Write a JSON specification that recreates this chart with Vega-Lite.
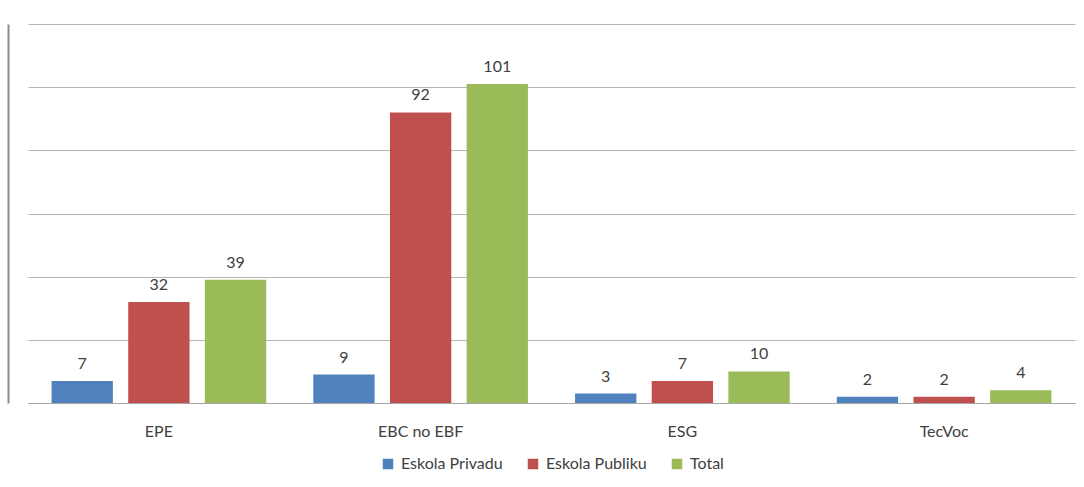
{
  "$schema": "https://vega.github.io/schema/vega-lite/v6.json",
  "autosize": "none",
  "width": 1047,
  "height": 379,
  "padding": {"left": 28, "top": 24, "right": 9, "bottom": 84},
  "background": "white",
  "config": {"font": "Lato", "view": {"stroke": null}},
  "data": {"values": [
    {"cat": "EPE", "serie": "Eskola Privadu", "val": 7},
    {"cat": "EPE", "serie": "Eskola Publiku", "val": 32},
    {"cat": "EPE", "serie": "Total", "val": 39},
    {"cat": "EBC no EBF", "serie": "Eskola Privadu", "val": 9},
    {"cat": "EBC no EBF", "serie": "Eskola Publiku", "val": 92},
    {"cat": "EBC no EBF", "serie": "Total", "val": 101},
    {"cat": "ESG", "serie": "Eskola Privadu", "val": 3},
    {"cat": "ESG", "serie": "Eskola Publiku", "val": 7},
    {"cat": "ESG", "serie": "Total", "val": 10},
    {"cat": "TecVoc", "serie": "Eskola Privadu", "val": 2},
    {"cat": "TecVoc", "serie": "Eskola Publiku", "val": 2},
    {"cat": "TecVoc", "serie": "Total", "val": 4}
  ]},
  "encoding": {
    "x": {"field": "cat", "type": "nominal", "sort": null,
      "scale": {"paddingInner": 0.18, "paddingOuter": 0.09},
      "axis": {"title": null, "labelAngle": 0, "ticks": false, "domainColor": "#a6a6a6", "domainWidth": 1,
        "labelFontSize": 16, "labelColor": "#404040", "labelPadding": 20, "labelFont": "Lato"}},
    "xOffset": {"field": "serie", "type": "nominal", "sort": null,
      "scale": {"paddingInner": 0.2, "paddingOuter": 0}},
    "y": {"field": "val", "type": "quantitative",
      "scale": {"domain": [0, 120], "nice": false},
      "axis": {"title": null, "labels": false, "ticks": false, "values": [0, 20, 40, 60, 80, 100, 120],
        "grid": true, "gridColor": "#b5b5b5", "gridWidth": 1,
        "domain": true, "domainColor": "#8c8c8c", "domainWidth": 2, "offset": 20}}
  },
  "layer": [
    {"mark": {"type": "bar"},
     "encoding": {"color": {"field": "serie", "type": "nominal", "sort": null,
       "scale": {"domain": ["Eskola Privadu", "Eskola Publiku", "Total"], "range": ["#4F81BD", "#C0504D", "#9BBB59"]},
       "legend": {"title": null, "orient": "none", "direction": "horizontal", "legendX": 352, "legendY": 432,
         "symbolType": "square", "symbolSize": 110, "symbolStrokeWidth": 0, "labelFontSize": 16, "labelColor": "#404040",
         "columnPadding": 22, "labelOffset": 5, "labelFont": "Lato"}}}},
    {"mark": {"type": "text", "baseline": "bottom", "dy": -9, "fontSize": 16, "color": "#404040", "font": "Lato"},
     "encoding": {"text": {"field": "val", "type": "quantitative"}}}
  ]
}
